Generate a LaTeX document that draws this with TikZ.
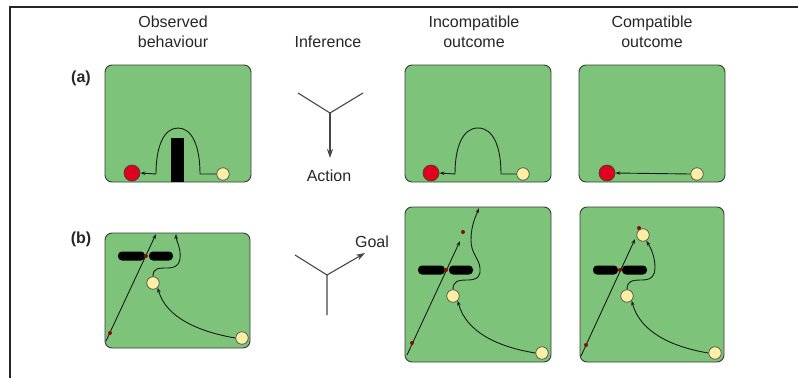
\documentclass[tikz,border=0pt]{standalone}
\usepackage{fontspec}
\setmainfont{Liberation Sans}
\usetikzlibrary{arrows.meta}
\definecolor{panelgreen}{RGB}{125,196,122}
\definecolor{panelline}{RGB}{55,60,55}
\definecolor{ballred}{RGB}{222,0,28}
\definecolor{ballyellow}{RGB}{255,238,165}
\definecolor{dotred}{RGB}{140,10,10}
\definecolor{infgray}{RGB}{70,70,70}
\begin{document}
\begin{tikzpicture}[x=1pt,y=-1pt,
  panel/.style={draw=panelline,fill=panelgreen,line width=0.9pt,rounded corners=7pt,minimum width=146pt,inner sep=0pt},
  redball/.style={circle,draw=black!75,fill=ballred,minimum size=16pt,inner sep=0pt,line width=0.7pt},
  yball/.style={circle,draw=black!70,fill=ballyellow,minimum size=12.5pt,inner sep=0pt,line width=0.7pt},
  rdot/.style={circle,fill=dotred,minimum size=4pt,inner sep=0pt},
  barbox/.style={fill=black,rounded corners=4pt,minimum height=9pt,inner sep=0pt},
  trail/.style={line width=0.9pt,black!90,-{Stealth[length=5pt,width=3.5pt]}},
  infline/.style={line width=1.1pt,infgray},
  infarrow/.style={line width=1.1pt,infgray,-{Stealth[length=9pt,width=6pt]}},
  lbl/.style={font=\fontsize{16}{20}\selectfont,inner sep=0pt,anchor=base,text=black!85},
  tag/.style={font=\fontsize{16}{20}\selectfont\bfseries,inner sep=0pt,anchor=base,text=black!85},
  frame/.style={line width=2pt,black!85}]
\useasboundingbox (0,0) rectangle (798,378);

% frame
\coordinate (fr-bl) at (10,378);
\coordinate (fr-tl) at (10,7);
\coordinate (fr-tr) at (798,7);
\draw[frame] (fr-bl) -- (fr-tl) -- (fr-tr);

% column headings
\node[lbl] (h-obs1) at (173,27) {Observed};
\node[lbl] (h-obs2) at (173,47) {behaviour};
\node[lbl] (h-inf) at (328,47) {Inference};
\node[lbl] (h-inc1) at (474,27) {Incompatible};
\node[lbl] (h-inc2) at (474,47) {outcome};
\node[lbl] (h-com1) at (652,27) {Compatible};
\node[lbl] (h-com2) at (652,47) {outcome};
\node[tag] (tag-a) at (81,82) {(a)};
\node[tag] (tag-b) at (81,243) {(b)};

% ---------- row (a) ----------
\node[panel,minimum height=117pt] (pa1) at (178,123.5) {};
\node[panel,minimum height=117pt] (pa2) at (478,123.5) {};
\node[panel,minimum height=117pt] (pa3) at (652,123.5) {};

% observed
\node[fill=black,minimum width=13pt,minimum height=44pt,inner sep=0pt] (blk) at (177.5,160) {};
\node[redball] (ra1) at (132,173) {};
\node[yball] (ya1) at (223,174) {};
\draw[trail] (ya1.west) -- (200,174) .. controls (200,146) and (192,128) .. (178,128)
   .. controls (164,128) and (156,146) .. (156,174) -- (ra1.east);
% incompatible
\node[redball] (ra2) at (431,173) {};
\node[yball] (ya2) at (523,174) {};
\draw[trail] (ya2.west) -- (501,174) .. controls (501,146) and (493,128) .. (478,128)
   .. controls (463,128) and (455,146) .. (455,174) -- (ra2.east);
% compatible
\node[redball] (ra3) at (607,173) {};
\node[yball] (ya3) at (697,174) {};
\draw[trail] (ya3.west) -- (ra3.east);

% inference (a)
\coordinate (ia-l) at (298,93);
\coordinate (ia-r) at (363,93);
\coordinate (ia-c) at (330,113);
\coordinate (ia-e) at (330,158);
\draw[infline] (ia-l) -- (ia-c) -- (ia-r);
\draw[infarrow] (ia-c) -- (ia-e);
\node[lbl] (act) at (329,181) {Action};

% ---------- row (b) ----------
\node[panel,minimum height=115pt,minimum width=145pt] (pb1) at (177.5,290.5) {};
\node[panel,minimum height=155pt] (pb2) at (478,284.5) {};
\node[panel,minimum height=155pt,minimum width=144pt] (pb3) at (652,284.5) {};

% observed (b)
\node[barbox,minimum width=27pt] (b1l) at (131.5,256) {};
\node[barbox,minimum width=24pt] (b1r) at (161,256) {};
\coordinate (s1) at (106,341);
\coordinate (e1) at (156,234);
\draw[trail] (s1) -- (e1);
\node[rdot] (d1a) at (110,333) {};
\node[rdot] (d1b) at (146,256) {};
\node[yball] (m1) at (153,283) {};
\node[yball] (q1) at (242,338) {};
\draw[trail] (q1.west) .. controls (200,332) and (166,318) .. (m1.south east);
\draw[trail] (m1.north) .. controls (153,268) and (158,268) .. (168,268)
   .. controls (178,268) and (181,262) .. (180,252)
   .. controls (179,244) and (176,240) .. (176,234);

% incompatible (b)
\node[barbox,minimum width=27pt] (b2l) at (431.5,270) {};
\node[barbox,minimum width=24pt] (b2r) at (461,270) {};
\coordinate (s2) at (407,355);
\coordinate (e2) at (460,241);
\draw[trail] (s2) -- (e2);
\node[rdot] (d2a) at (412,343) {};
\node[rdot] (d2b) at (446,270) {};
\node[rdot] (d2c) at (463,232) {};
\node[yball] (m2) at (453,296) {};
\node[yball] (q2) at (542,353) {};
\draw[trail] (q2.west) .. controls (498,347) and (466,332) .. (m2.south east);
\draw[trail] (m2.north) .. controls (453,281) and (458,280) .. (468,280)
   .. controls (478,280) and (481,275) .. (480,268)
   .. controls (479,258) and (471,254) .. (471,240)
   .. controls (471,225) and (476,216) .. (479,208);

% compatible (b)
\node[barbox,minimum width=25pt] (b3l) at (605.5,270) {};
\node[barbox,minimum width=25pt] (b3r) at (634.5,270) {};
\coordinate (s3) at (581,356);
\coordinate (e3) at (635,239);
\draw[trail] (s3) -- (e3);
\node[rdot] (d3a) at (586,345) {};
\node[rdot] (d3b) at (620,270) {};
\node[yball] (m3) at (627,296) {};
\node[yball] (q3) at (715,353) {};
\node[yball] (t3) at (643,235) {};
\node[rdot] (d3c) at (639,228) {};
\draw[trail] (q3.west) .. controls (672,347) and (640,332) .. (m3.south east);
\draw[trail] (m3.north) .. controls (627,281) and (632,280) .. (642,280)
   .. controls (652,280) and (655,275) .. (655,268)
   .. controls (655,258) and (652,250) .. (t3.-60);

% inference (b)
\coordinate (ib-l) at (295,255);
\coordinate (ib-c) at (327,275);
\coordinate (ib-b) at (327,315);
\coordinate (ib-e) at (365,253);
\draw[infline] (ib-l) -- (ib-c) -- (ib-b);
\draw[infarrow] (ib-c) -- (ib-e);
\node[lbl] (goal) at (372,247) {Goal};
\end{tikzpicture}
\end{document}
